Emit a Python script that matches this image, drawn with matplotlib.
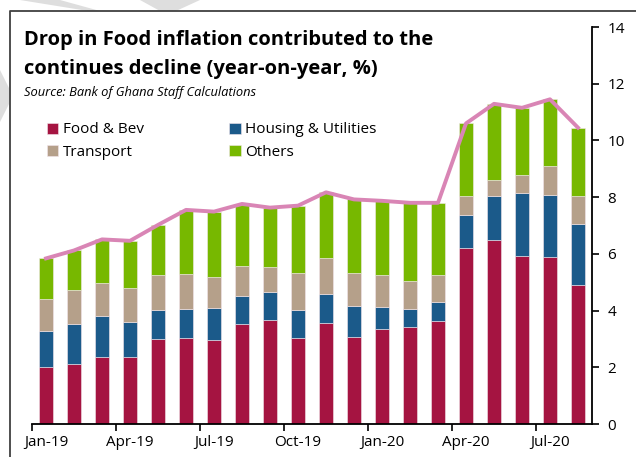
import numpy as np
import matplotlib
matplotlib.use("Agg")
from matplotlib import pyplot as plt
from matplotlib.patches import Polygon
from matplotlib.lines import Line2D

# Data (contributions, percentage points)
months = ["Jan-19", "Feb-19", "Mar-19", "Apr-19", "May-19", "Jun-19", "Jul-19",
          "Aug-19", "Sep-19", "Oct-19", "Nov-19", "Dec-19", "Jan-20", "Feb-20",
          "Mar-20", "Apr-20", "May-20", "Jun-20", "Jul-20", "Aug-20"]
food = [2.01, 2.12, 2.36, 2.36, 3.00, 3.03, 2.96, 3.53, 3.66, 3.02,
        3.57, 3.08, 3.34, 3.41, 3.62, 6.22, 6.49, 5.94, 5.90, 4.89]
housing = [1.27, 1.41, 1.45, 1.25, 1.02, 1.04, 1.13, 0.99, 1.01, 1.01,
           1.01, 1.09, 0.79, 0.66, 0.69, 1.15, 1.55, 2.19, 2.17, 2.15]
transport = [1.14, 1.18, 1.16, 1.19, 1.23, 1.21, 1.09, 1.06, 0.88, 1.31,
             1.26, 1.15, 1.12, 0.98, 0.93, 0.67, 0.56, 0.65, 1.03, 1.01]
others = [1.42, 1.41, 1.54, 1.66, 1.77, 2.27, 2.31, 2.18, 2.08, 2.36,
          2.33, 2.60, 2.62, 2.75, 2.56, 2.56, 2.69, 2.37, 2.35, 2.40]
headline = [5.84, 6.12, 6.51, 6.46, 7.02, 7.55, 7.49, 7.76, 7.63, 7.70,
            8.17, 7.92, 7.87, 7.80, 7.80, 10.60, 11.29, 11.15, 11.45, 10.45]

series = [("Food & Bev", food, "#A51441"),
          ("Housing & Utilities", housing, "#1B5A8A"),
          ("Transport", transport, "#B5A08A"),
          ("Others", others, "#77B800")]

plt.rcParams['font.family'] = ['Open Sans', 'DejaVu Sans']

fig = plt.figure(figsize=(6.36, 4.57), dpi=100)
W, H = 636, 457

# faint background watermark stripes
for pts in [[(20, 0), (60, 0), (100, 11), (88, 11)],
            [(140, 0), (200, 0), (176, 11), (160, 11)],
            [(0, 70), (9, 88), (9, 104), (0, 122)]]:
    fig.patches.append(Polygon([(x / W, 1 - y / H) for x, y in pts], closed=True,
                               transform=fig.transFigure, facecolor="#DEDEDE",
                               edgecolor="none", zorder=0))

# frame around the chart
fig.lines.append(Line2D([10 / W, 10 / W, 1.01], [-0.01, 1 - 11 / H, 1 - 11 / H],
                        transform=fig.transFigure, color="#404040", lw=1.3))

ax = fig.add_axes([32 / W, 1 - 424 / H, 560 / W, 397 / H])
x = np.arange(len(months))
bottom = np.zeros(len(months))
bars = []
for name, vals, col in series:
    b = ax.bar(x, vals, width=0.47, bottom=bottom, color=col, label=name,
               edgecolor="#F3E6EC", linewidth=0.4, zorder=2)
    bars.append(b)
    bottom += np.array(vals)
ax.plot(x, headline, color="#D985B5", lw=2.8, zorder=3, solid_joinstyle="round")

ax.set_xlim(-0.5, len(months) - 0.5)
ax.set_ylim(0, 14)
ax.yaxis.tick_right()
ax.set_yticks(range(0, 15, 2))
ax.tick_params(axis="y", direction="out", length=5, width=1.2, labelsize=11, pad=6)
for s in ["left", "top"]:
    ax.spines[s].set_visible(False)
ax.spines["right"].set_linewidth(1.3)
ax.spines["bottom"].set_linewidth(1.3)

# quarterly tick marks between bars, labels centred on the month
ax.set_xticks(np.arange(-0.5, len(months), 3))
ax.set_xticklabels([])
ax.set_xticks(x[::3], minor=True)
ax.set_xticklabels(months[::3], minor=True)
ax.tick_params(axis="x", which="major", direction="out", length=5, width=1.2)
ax.tick_params(axis="x", which="minor", length=0, labelsize=11, pad=8)

# legend filled row by row: Food, Housing / Transport, Others
order = [0, 2, 1, 3]
ax.legend([bars[i] for i in order], [series[i][0] for i in order],
          loc="upper left", bbox_to_anchor=(0.015, 0.775), ncol=2, frameon=False,
          fontsize=11, handlelength=0.75, handleheight=0.75, handletextpad=0.3,
          columnspacing=5.6, labelspacing=0.5, borderaxespad=0)

fig.text(24 / W, 1 - 30 / H, "Drop in Food inflation contributed to the\ncontinues decline (year-on-year, %)",
         fontsize=14.5, fontweight="bold", va="top", ha="left", linespacing=1.6)
fig.text(24 / W, 1 - 86 / H, "Source: Bank of Ghana Staff Calculations",
         fontsize=9.3, style="italic", va="top", ha="left")

fig.savefig("out.png", dpi=100)
